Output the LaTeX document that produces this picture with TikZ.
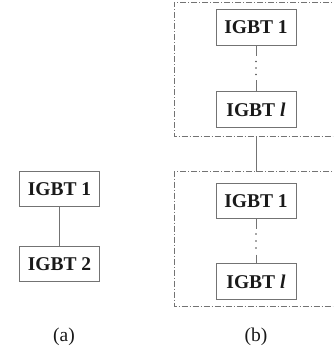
\documentclass[tikz,border=0pt]{standalone}
\usepackage{fontspec}
\setmainfont{Liberation Serif}
\begin{document}
\begin{tikzpicture}[x=1pt,y=-1pt,
  igbt/.style={draw=black!55, line width=0.7pt, minimum width=80pt, minimum height=35.5pt, inner sep=0pt,
    font=\fontsize{19.5}{22}\selectfont\bfseries, text=black!90},
  link/.style={draw=black!55, line width=0.7pt},
  frameline/.style={draw=black!55, line width=0.7pt, dash pattern=on 6pt off 2pt on 1pt off 2pt},
  sublabel/.style={font=\fontsize{19.5}{22}\selectfont, text=black!90},
  dotmark/.style={fill=black!70, circle, inner sep=0pt, minimum size=1.9pt}]
\useasboundingbox (0,0) rectangle (333,356);
\clip (0,0) rectangle (333,356);
% (a)
\node[igbt] (a1) at (59.5,189) {IGBT 1};
\node[igbt] (a2) at (59.5,264) {IGBT 2};
\draw[link] (a1) -- (a2);
\node[sublabel] (la) at (64,337) {(a)};
% (b) frames
\draw[frameline] (340,2) -- (174,2) -- (174,136.5) -- (340,136.5);
\draw[frameline] (340,171.5) -- (174,171.5) -- (174,306) -- (340,306);
\coordinate (ft) at (256,136.5);
\coordinate (fb) at (256,171.5);
\draw[link] (ft) -- (fb);
% upper group
\node[igbt] (u1) at (256,27.5) {IGBT 1};
\node[igbt] (ul) at (256,109.5) {IGBT \textit{l}};
\coordinate (u1e) at (256,56);
\coordinate (ule) at (256,80);
\draw[link] (u1.south) -- (u1e);
\draw[link] (ule) -- (ul.north);
\node[dotmark] (ud1) at (256,61.5) {};
\node[dotmark] (ud2) at (256,68) {};
\node[dotmark] (ud3) at (256,74.5) {};
% lower group
\node[igbt] (d1) at (256,201) {IGBT 1};
\node[igbt] (dl) at (256,281.5) {IGBT \textit{l}};
\coordinate (d1e) at (256,228.5);
\coordinate (dle) at (256,254.5);
\draw[link] (d1.south) -- (d1e);
\draw[link] (dle) -- (dl.north);
\node[dotmark] (dd1) at (256,234) {};
\node[dotmark] (dd2) at (256,241) {};
\node[dotmark] (dd3) at (256,248) {};
\node[sublabel] (lb) at (256,337) {(b)};
\end{tikzpicture}
\end{document}
